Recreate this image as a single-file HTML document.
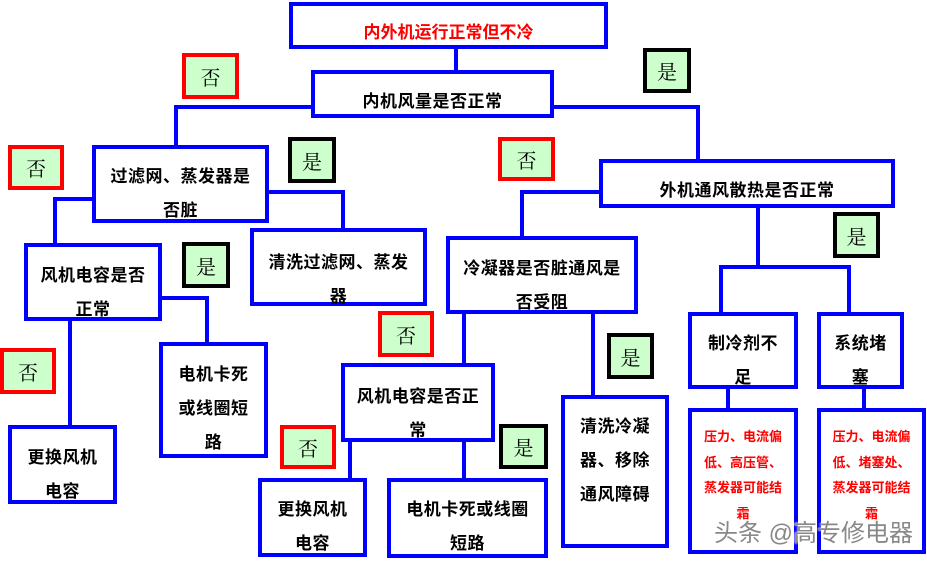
<!DOCTYPE html>
<html><head><meta charset="utf-8"><style>
body{margin:0;width:927px;height:559px;background:#fff;position:relative;overflow:hidden;font-family:"Liberation Sans","Noto Sans CJK SC","WenQuanYi Zen Hei",sans-serif}
.b{position:absolute;box-sizing:border-box;border:4px solid #0000ff;background:#fff;text-align:center;font-weight:bold;font-size:17px;letter-spacing:0.5px;line-height:34px;color:#000;white-space:nowrap}
.r{color:#ff0000;font-size:13px;letter-spacing:0;line-height:25.5px}
.l{position:absolute;box-sizing:border-box;border:4px solid #ff0000;background:#ccffcc;font-size:20px;text-align:center;color:#000;display:flex;align-items:center;justify-content:center;font-family:"Noto Serif CJK SC",serif}
.k{border-color:#000}
.h{position:absolute;background:#0000ff}
</style></head><body>
<div class="h" style="left:454px;top:46px;width:4px;height:26px"></div>
<div class="h" style="left:174px;top:105px;width:140px;height:4px"></div>
<div class="h" style="left:174px;top:105px;width:4px;height:42px"></div>
<div class="h" style="left:550px;top:105px;width:149px;height:4px"></div>
<div class="h" style="left:696px;top:105px;width:4px;height:56px"></div>
<div class="h" style="left:53px;top:197px;width:42px;height:4px"></div>
<div class="h" style="left:53px;top:197px;width:4px;height:48px"></div>
<div class="h" style="left:265px;top:190px;width:80px;height:4px"></div>
<div class="h" style="left:341px;top:190px;width:4px;height:40px"></div>
<div class="h" style="left:520px;top:190px;width:81px;height:4px"></div>
<div class="h" style="left:520px;top:190px;width:4px;height:48px"></div>
<div class="h" style="left:756px;top:206px;width:4px;height:63px"></div>
<div class="h" style="left:719px;top:265px;width:132px;height:4px"></div>
<div class="h" style="left:719px;top:265px;width:4px;height:49px"></div>
<div class="h" style="left:847px;top:265px;width:4px;height:49px"></div>
<div class="h" style="left:68px;top:319px;width:4px;height:108px"></div>
<div class="h" style="left:160px;top:296px;width:49px;height:4px"></div>
<div class="h" style="left:205px;top:296px;width:4px;height:48px"></div>
<div class="h" style="left:462px;top:312px;width:4px;height:53px"></div>
<div class="h" style="left:591px;top:312px;width:4px;height:85px"></div>
<div class="h" style="left:348px;top:440px;width:4px;height:40px"></div>
<div class="h" style="left:462px;top:440px;width:4px;height:40px"></div>
<div class="h" style="left:726px;top:386px;width:4px;height:24px"></div>
<div class="h" style="left:862px;top:386px;width:4px;height:24px"></div>
<div class="b" style="left:289px;top:2px;width:319px;height:47px;padding-top:17px;line-height:20px;color:#ff0000;letter-spacing:0">内外机运行正常但不冷</div>
<div class="b" style="left:311px;top:70px;width:243px;height:48px;padding-top:18px;line-height:20px">内机风量是否正常</div>
<div class="b" style="left:92px;top:145px;width:177px;height:78px;padding-top:11px">过滤网、蒸发器是<br>否脏</div>
<div class="b" style="left:250px;top:228px;width:177px;height:78px;padding-top:14px">清洗过滤网、蒸发<br>器</div>
<div class="b" style="left:599px;top:159px;width:296px;height:49px;padding-top:18px;line-height:20px">外机通风散热是否正常</div>
<div class="b" style="left:446px;top:236px;width:192px;height:78px;padding-top:12px">冷凝器是否脏通风是<br>否受阻</div>
<div class="b" style="left:24px;top:243px;width:138px;height:78px;padding-top:12px">风机电容是否<br>正常</div>
<div class="b" style="left:159px;top:342px;width:109px;height:116px;padding-top:12px">电机卡死<br>或线圈短<br>路</div>
<div class="b" style="left:8px;top:425px;width:109px;height:79px;padding-top:12px">更换风机<br>电容</div>
<div class="b" style="left:341px;top:363px;width:154px;height:79px;padding-top:13px">风机电容是否正<br>常</div>
<div class="b" style="left:258px;top:478px;width:109px;height:79px;padding-top:11px">更换风机<br>电容</div>
<div class="b" style="left:387px;top:478px;width:161px;height:80px;padding-top:11px">电机卡死或线圈<br>短路</div>
<div class="b" style="left:561px;top:395px;width:108px;height:153px;padding-top:11px">清洗冷凝<br>器、移除<br>通风障碍</div>
<div class="b" style="left:688px;top:312px;width:110px;height:77px;padding-top:11px">制冷剂不<br>足</div>
<div class="b" style="left:817px;top:312px;width:87px;height:77px;padding-top:11px">系统堵<br>塞</div>
<div class="b r" style="left:688px;top:408px;width:110px;height:146px;padding-top:12px">压力、电流偏<br>低、高压管、<br>蒸发器可能结<br>霜</div>
<div class="b r" style="left:817px;top:408px;width:109px;height:146px;padding-top:12px">压力、电流偏<br>低、堵塞处、<br>蒸发器可能结<br>霜</div>
<div class="l" style="left:182px;top:53px;width:57px;height:46px">否</div>
<div class="l" style="left:8px;top:145px;width:56px;height:45px">否</div>
<div class="l" style="left:498px;top:137px;width:57px;height:44px">否</div>
<div class="l" style="left:0px;top:348px;width:56px;height:46px">否</div>
<div class="l" style="left:378px;top:311px;width:56px;height:46px">否</div>
<div class="l" style="left:280px;top:425px;width:56px;height:44px">否</div>
<div class="l k" style="left:643px;top:48px;width:48px;height:45px">是</div>
<div class="l k" style="left:288px;top:137px;width:48px;height:46px">是</div>
<div class="l k" style="left:182px;top:242px;width:48px;height:46px">是</div>
<div class="l k" style="left:607px;top:333px;width:47px;height:46px">是</div>
<div class="l k" style="left:499px;top:424px;width:49px;height:45px">是</div>
<div class="l k" style="left:833px;top:212px;width:47px;height:46px">是</div>
<div style="position:absolute;left:714px;top:513px;font-size:24px;color:#888;white-space:nowrap;text-shadow:0 0 2px #fff,0 0 2px #fff">头条 @高专修电器</div>
</body></html>
